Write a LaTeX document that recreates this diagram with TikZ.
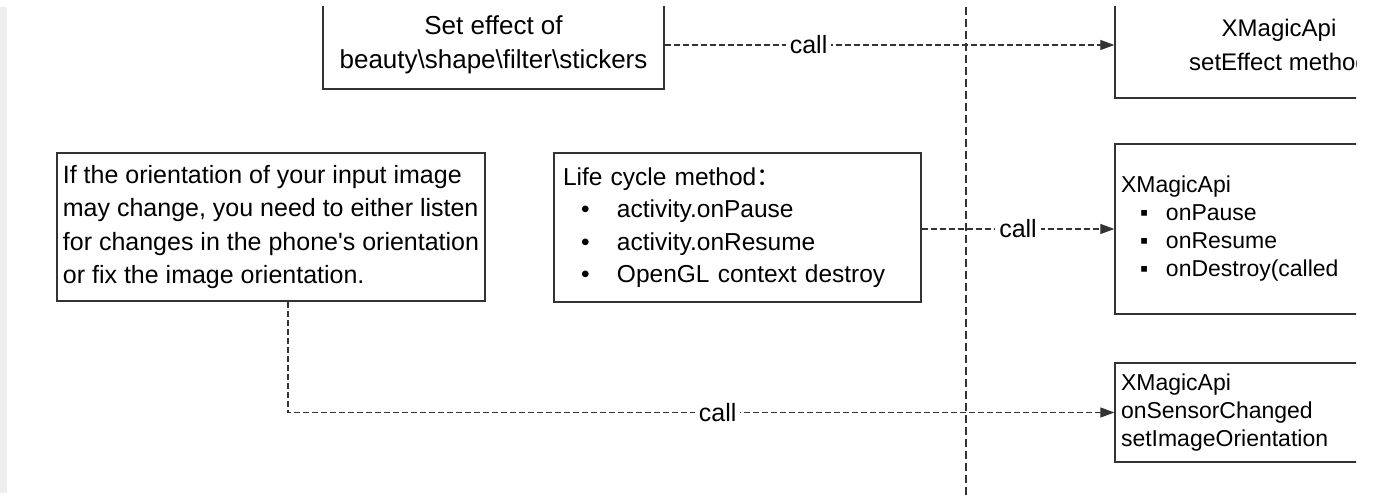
\documentclass[tikz,border=0pt]{standalone}
\usepackage{fontspec}
\setmainfont{Liberation Sans}
\newfontfamily\cjkfont{Noto Sans CJK SC}
\usepackage{tikz}
\usetikzlibrary{arrows.meta}
\definecolor{boxline}{HTML}{333333}
\definecolor{edgegrey}{HTML}{EEEEEE}

\begin{document}
\begin{tikzpicture}[x=1pt, y=-1pt,
  toptxt/.style={font=\fontsize{26}{34}\selectfont},
  bigtxt/.style={font=\fontsize{25}{33.5}\selectfont},
  listtxt/.style={font=\fontsize{24.5}{32.5}\selectfont},
  smalltxt/.style={font=\fontsize{23}{28}\selectfont},
  box/.style={draw=boxline, line width=1.3pt, inner ysep=0pt},
  flow/.style={-{Triangle[length=14pt,width=10pt]}, boxline, line width=1.2pt,
    dash pattern=on 6pt off 3pt},
  lbl/.style={fill=white, inner sep=4pt, bigtxt, text=black},
  divider/.style={boxline, line width=1.2pt, dash pattern=on 8pt off 4pt}
]
\useasboundingbox (0,0) rectangle (1376,495);
\clip (0,7) rectangle (1356,495);
\fill[edgegrey] (0,7) rectangle (7,493);
\draw[divider] (966,7) -- (966,495);
\node[box, toptxt, minimum width=341pt, minimum height=88pt, align=center]
  (effect) at (493.5,45) {Set effect of\\beauty\textbackslash shape\textbackslash filter\textbackslash stickers};
\node[box, font=\fontsize{24}{34}\selectfont, minimum width=328pt, minimum height=106pt, align=center]
  (apiset) at (1279,45) {XMagicApi\\setEffect method};
\node[box, bigtxt, minimum height=148pt, minimum width=428pt, inner xsep=0pt, align=left]
  (orient) at (271,227) {If the orientation of your input image\\
  may change, you need to either listen\\
  for changes in the phone\textquotesingle s orientation\\
  or fix the image orientation.};
\node[box, listtxt, minimum height=149pt, inner xsep=9pt, text width=349pt, align=left]
  (life) at (737.5,227.5) {Life cycle method{\cjkfont ：}\\
  \hspace*{18pt}\makebox[36pt][l]{•}activity.onPause\\
  \hspace*{18pt}\makebox[36pt][l]{•}activity.onResume\\
  \hspace*{18pt}\makebox[36pt][l]{•}OpenGL context destroy};
\node[box, smalltxt, minimum height=170pt, inner xsep=6pt, text width=318pt, align=left]
  (apilife) at (1280,229) {XMagicApi\\
  \hspace*{19pt}\makebox[26pt][l]{▪}onPause\\
  \hspace*{19pt}\makebox[26pt][l]{▪}onResume\\
  \hspace*{19pt}\makebox[26pt][l]{▪}onDestroy(called};
\node[box, smalltxt, minimum height=99pt, inner xsep=6pt, text width=318pt, align=left]
  (apisensor) at (1280,412.5) {XMagicApi\\onSensorChanged\\setImageOrientation};
\draw[flow] (effect.east) -- node[lbl, pos=0.32] {call} (apiset.west);
\draw[flow] (life.east |- apilife.west) -- node[lbl] {call} (apilife.west);
\draw[flow] ([xshift=17pt]orient.south) |- node[lbl, pos=0.76] {call} (apisensor.west);
\end{tikzpicture}
\end{document}
